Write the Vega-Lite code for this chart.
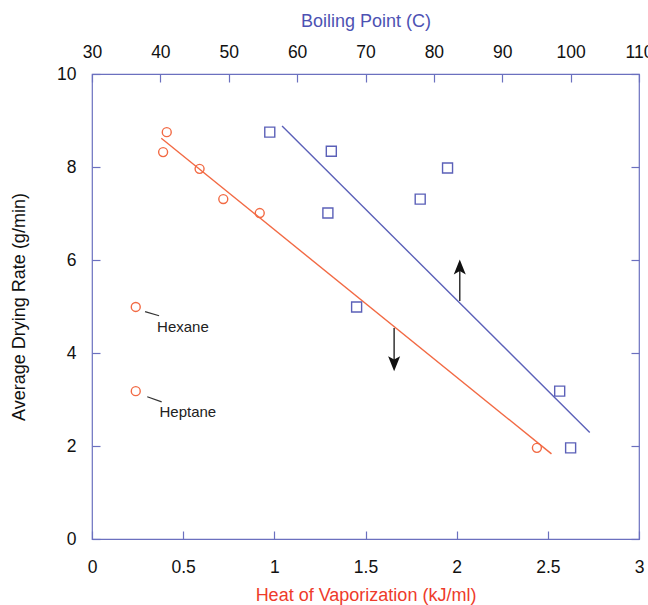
{
  "$schema": "https://vega.github.io/schema/vega-lite/v6.json",
  "width": 547,
  "height": 465,
  "autosize": {"type": "none"},
  "padding": {"left": 92, "top": 74, "right": 9, "bottom": 66},
  "config": {
    "font": "Liberation Sans",
    "view": {"stroke": "#6b70bf", "strokeWidth": 1.2},
    "axis": {
      "grid": false,
      "domain": false,
      "tickColor": "#6b70bf",
      "tickWidth": 1.2,
      "tickSize": -8,
      "labelFont": "Liberation Sans",
      "labelFontSize": 17.5,
      "labelColor": "#111111",
      "labelFlush": false,
      "labelOverlap": false,
      "titleFont": "Liberation Sans",
      "titleFontSize": 18,
      "titleFontWeight": "normal"
    }
  },
  "datasets": {
    "orange": [
      {"hv": 0.41, "rate": 8.75},
      {"hv": 0.39, "rate": 8.32},
      {"hv": 0.59, "rate": 7.96},
      {"hv": 0.72, "rate": 7.31},
      {"hv": 0.92, "rate": 7.01},
      {"hv": 2.44, "rate": 1.96},
      {"hv": 0.24, "rate": 4.99},
      {"hv": 0.24, "rate": 3.18}
    ],
    "orangeFit": [
      {"hv": 0.38, "rate": 8.62},
      {"hv": 2.52, "rate": 1.83}
    ],
    "callouts": [
      {"label": "Hexane", "hv": 0.291, "rate": 4.89, "hv2": 0.368, "rate2": 4.8},
      {"label": "Heptane", "hv": 0.303, "rate": 3.06, "hv2": 0.382, "rate2": 2.95}
    ],
    "labels": [
      {"label": "Hexane", "hv": 0.357, "rate": 4.55},
      {"label": "Heptane", "hv": 0.37, "rate": 2.73}
    ],
    "arrowShafts": [
      {"hv": 2.017, "rate": 5.12, "rate2": 5.8},
      {"hv": 1.657, "rate": 4.54, "rate2": 3.82}
    ],
    "arrowHeads": [
      {"hv": 2.017, "rate": 5.85, "dir": "up"},
      {"hv": 1.657, "rate": 3.77, "dir": "down"}
    ],
    "blue": [
      {"bp": 56, "rate": 8.75},
      {"bp": 65, "rate": 8.34},
      {"bp": 64.5, "rate": 7.01},
      {"bp": 78, "rate": 7.31},
      {"bp": 82, "rate": 7.98},
      {"bp": 68.7, "rate": 4.99},
      {"bp": 98.4, "rate": 3.18},
      {"bp": 100, "rate": 1.96}
    ],
    "blueFit": [
      {"bp": 57.8, "rate": 8.88},
      {"bp": 102.8, "rate": 2.29}
    ]
  },
  "layer": [
    {
      "encoding": {
        "x": {
          "field": "hv",
          "type": "quantitative",
          "scale": {"domain": [0, 3], "nice": false, "zero": false},
          "axis": {
            "orient": "bottom",
            "title": "Heat of Vaporization (kJ/ml)",
            "titleColor": "#ee3b2b",
            "values": [0, 0.5, 1, 1.5, 2, 2.5, 3],
            "format": "~g",
            "labelPadding": 27,
            "titlePadding": 11
          }
        },
        "y": {
          "field": "rate",
          "type": "quantitative",
          "scale": {"domain": [0, 10], "nice": false, "zero": false},
          "axis": {
            "orient": "left",
            "title": "Average Drying Rate (g/min)",
            "titleColor": "#111111",
            "values": [0, 2, 4, 6, 8, 10],
            "labelPadding": 24,
            "titlePadding": 28
          }
        }
      },
      "layer": [
        {
          "data": {"name": "orangeFit"},
          "mark": {"type": "line", "color": "#f26a44", "strokeWidth": 1.4},
          "encoding": {}
        },
        {
          "data": {"name": "orange"},
          "mark": {"type": "point", "shape": "circle", "filled": false, "color": "#f26a44", "strokeWidth": 1.4, "size": 80, "opacity": 1}
        },
        {
          "data": {"name": "callouts"},
          "mark": {"type": "rule", "color": "#333333", "strokeWidth": 1.2},
          "encoding": {"x2": {"field": "hv2"}, "y2": {"field": "rate2"}}
        },
        {
          "data": {"name": "labels"},
          "mark": {"type": "text", "align": "left", "baseline": "middle", "fontSize": 15, "color": "#222222", "font": "Liberation Sans"},
          "encoding": {"text": {"field": "label"}}
        },
        {
          "data": {"name": "arrowShafts"},
          "mark": {"type": "rule", "color": "#333333", "strokeWidth": 1.5},
          "encoding": {"y2": {"field": "rate2"}}
        },
        {
          "data": {"name": "arrowHeads"},
          "mark": {"type": "point", "filled": true, "color": "#111111", "size": 225, "opacity": 1},
          "encoding": {
            "shape": {
              "field": "dir",
              "type": "nominal",
              "scale": {"domain": ["up", "down"], "range": ["M0,-1L0.8,1L0,0.55L-0.8,1Z", "M0,1L0.8,-1L0,-0.55L-0.8,-1Z"]},
              "legend": null
            }
          }
        }
      ]
    },
    {
      "encoding": {
        "x": {
          "field": "bp",
          "type": "quantitative",
          "scale": {"domain": [30, 110], "nice": false, "zero": false},
          "axis": {
            "orient": "top",
            "title": "Boiling Point (C)",
            "titleColor": "#4d52b3",
            "values": [30, 40, 50, 60, 70, 80, 90, 100, 110],
            "labelPadding": 21,
            "titlePadding": 13
          }
        },
        "y": {
          "field": "rate",
          "type": "quantitative",
          "scale": {"domain": [0, 10], "nice": false, "zero": false},
          "axis": {
            "orient": "right",
            "title": null,
            "labels": false,
            "values": [0, 2, 4, 6, 8, 10]
          }
        }
      },
      "layer": [
        {
          "data": {"name": "blueFit"},
          "mark": {"type": "line", "color": "#5b60b8", "strokeWidth": 1.4},
          "encoding": {}
        },
        {
          "data": {"name": "blue"},
          "mark": {"type": "point", "shape": "square", "filled": false, "color": "#5b60b8", "strokeWidth": 1.4, "size": 100, "opacity": 1}
        }
      ]
    }
  ],
  "resolve": {
    "scale": {"x": "independent"},
    "axis": {"x": "independent", "y": "independent"}
  }
}
